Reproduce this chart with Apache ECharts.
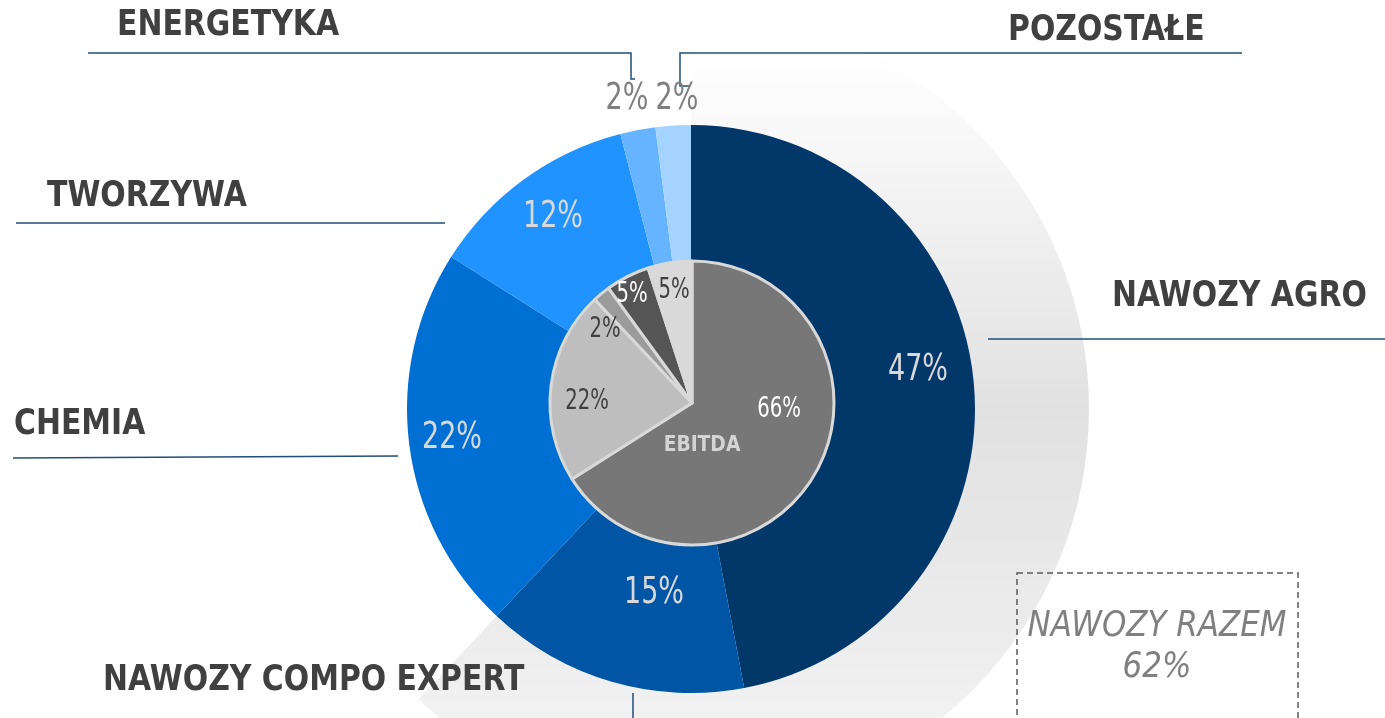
<!DOCTYPE html>
<html>
<head>
<meta charset="utf-8">
<script src="https://cdn.jsdelivr.net/npm/echarts@6/dist/echarts.min.js"></script>
<style>
  html, body { margin: 0; padding: 0; background: #fff; }
  #main { width: 1385px; height: 718px; }
</style>
</head>
<body>
<div id="main"></div>
<script>
// udział segmentów w przychodach (pierścień zewnętrzny), od góry zgodnie z zegarem
var sectorNames = ['NAWOZY AGRO', 'NAWOZY COMPO EXPERT', 'CHEMIA', 'TWORZYWA', 'ENERGETYKA', 'POZOSTAŁE'];
var revenueShare = [47, 15, 22, 12, 2, 2];
// udział w EBITDA (koło wewnętrzne)
var ebitdaShare = [66, 22, 2, 5, 5];
var ebitdaTitle = 'EBITDA';
// nawozy razem
var fertilizerTotal = 62;
var totalLabel = 'NAWOZY RAZEM';

var sectorColors = ['#02376a', '#0055a5', '#006fd4', '#2093ff', '#66b4ff', '#a4d3ff'];
var sectorLabelColors = ['#d9d9d9', '#d9d9d9', '#d9d9d9', '#d9d9d9', '#808080', '#808080'];
var ebitdaColors = ['#777777', '#bebebe', '#9b9b9b', '#555555', '#d9d9d9'];
var ebitdaLabelColors = ['#ffffff', '#404040', '#404040', '#ffffff', '#404040'];

// pozycje etykiet (px)
var ringLabelPos = [[918, 370], [654, 593], [452, 438], [553, 217], [627, 99], [677, 99]];
var innerLabelPos = [[779, 410], [587, 402], [605, 330], [632, 295], [674, 291]];
var nameLabelPos = [[1112, 297], [103, 681], [14, 425], [47, 197], [117, 26], [1008, 31]];
var leaderLines = [
  [[988, 339], [1385, 339]],
  [[633, 693], [633, 718]],
  [[13, 458], [398, 456]],
  [[16, 223], [445, 223]],
  [[88, 53], [631, 53], [631, 79], [635, 79]],
  [[1242, 53], [680, 53], [680, 86], [690, 86]]
];

var narrowFont = '"DejaVu Sans Condensed", "DejaVu Sans", sans-serif';
var chart = echarts.init(document.getElementById('main'));

function label(text, x, y, color, font, scaleX, align) {
  return {
    type: 'text', silent: true, z: 20,
    x: x, y: y, scaleX: scaleX,
    style: {
      text: text, fill: color, font: font,
      align: align || 'center', verticalAlign: 'middle'
    }
  };
}

var graphics = [];
sectorNames.forEach(function (name, i) {
  graphics.push({
    type: 'polyline', silent: true, z: 20,
    shape: { points: leaderLines[i] },
    style: { stroke: '#1f4e79', lineWidth: 1.5, fill: null }
  });
  graphics.push(label(name, nameLabelPos[i][0], nameLabelPos[i][1], '#404040',
    'bold 36px "DejaVu Sans"', 0.83, 'left'));
  graphics.push(label(revenueShare[i] + '%', ringLabelPos[i][0], ringLabelPos[i][1],
    sectorLabelColors[i], '200 38px ' + narrowFont, 0.79));
});
ebitdaShare.forEach(function (v, i) {
  graphics.push(label(v + '%', innerLabelPos[i][0], innerLabelPos[i][1],
    ebitdaLabelColors[i], '28px ' + narrowFont, 0.78));
});
graphics.push(label(ebitdaTitle, 702, 445, '#d4d4d4', 'bold 22px "DejaVu Sans"', 0.85));
graphics.push({
  type: 'rect', silent: true, z: 20,
  shape: { x: 1017, y: 573, width: 281, height: 160 },
  style: { fill: null, stroke: '#595959', lineWidth: 1.5, lineDash: [6, 4] }
});
graphics.push(label(totalLabel, 1157, 627, '#808080', 'italic 200 36px "DejaVu Sans"', 0.86));
graphics.push(label(fertilizerTotal + '%', 1157, 668, '#808080', 'italic 200 36px "DejaVu Sans"', 0.86));

var option = {
  backgroundColor: '#ffffff',
  animation: false,
  graphic: graphics,
  series: [
    {
      // tło: nawozy razem
      type: 'pie', silent: true, z: 0,
      center: [691, 409], radius: [0, 398],
      startAngle: 90, clockwise: true,
      label: { show: false }, labelLine: { show: false },
      data: [
        {
          value: fertilizerTotal,
          itemStyle: {
            color: {
              type: 'linear', x: 0, y: 9, x2: 0, y2: 809, global: true,
              colorStops: [
                { offset: 0, color: '#ffffff' },
                { offset: 0.07, color: '#fefefe' },
                { offset: 0.2, color: '#f5f5f5' },
                { offset: 0.5, color: '#e1e1e1' },
                { offset: 0.75, color: '#ebebeb' },
                { offset: 1, color: '#f7f7f7' }
              ]
            }
          }
        },
        { value: 100 - fertilizerTotal, itemStyle: { color: 'rgba(0,0,0,0)' } }
      ]
    },
    {
      type: 'pie', silent: true, z: 2,
      center: [691, 409], radius: [130, 284],
      startAngle: 90, clockwise: true,
      label: { show: false }, labelLine: { show: false },
      data: revenueShare.map(function (v, i) {
        return { name: sectorNames[i], value: v, itemStyle: { color: sectorColors[i] } };
      })
    },
    {
      type: 'pie', silent: true, z: 3,
      center: [692, 403], radius: [0, 142],
      startAngle: 90, clockwise: true,
      label: { show: false }, labelLine: { show: false },
      itemStyle: { borderColor: '#d9d9d9', borderWidth: 3 },
      data: ebitdaShare.map(function (v, i) {
        return { value: v, itemStyle: { color: ebitdaColors[i] } };
      })
    }
  ]
};
chart.setOption(option);
</script>
</body>
</html>
